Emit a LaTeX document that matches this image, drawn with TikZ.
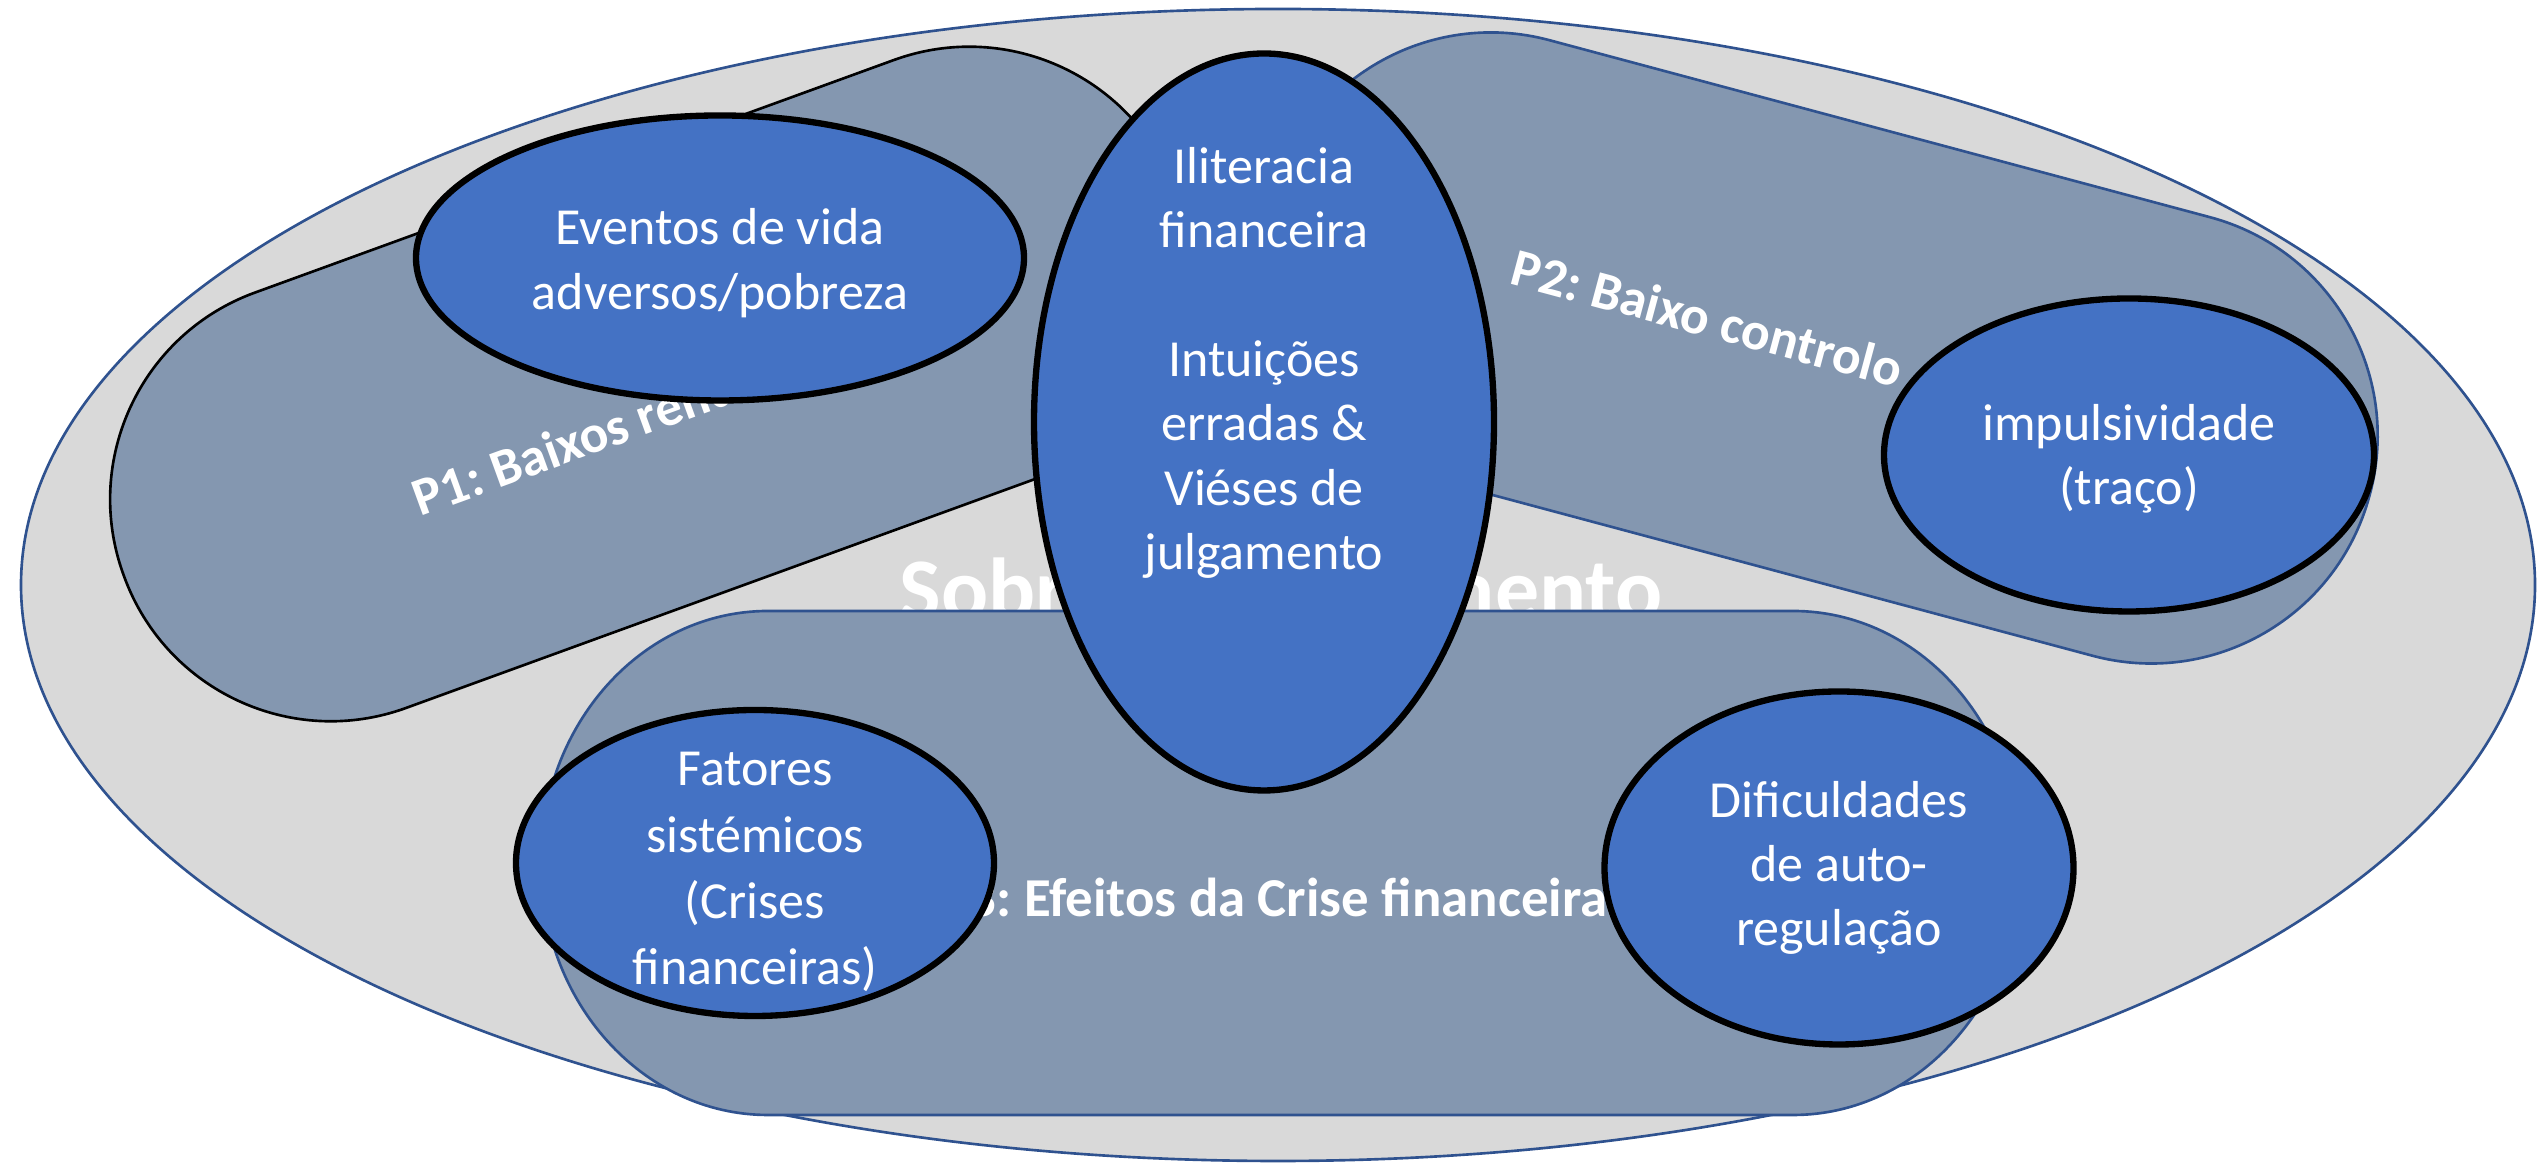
\documentclass[tikz,border=0pt]{standalone}
\usepackage{fontspec}
\setmainfont{Carlito}
\usetikzlibrary{shapes.geometric}
\frenchspacing

\definecolor{outerfill}{HTML}{D9D9D9}
\definecolor{outerline}{HTML}{2F528F}
\definecolor{pillfill}{HTML}{8497B0}
\definecolor{blobfill}{HTML}{4472C4}

\begin{document}
\begin{tikzpicture}[
    blob/.style={ellipse, draw=black, line width=1.8pt, fill=blobfill, inner sep=0pt},
    blobtext/.style={text=white, align=center, inner sep=0pt, font=\fontsize{14.8}{18.3}\selectfont},
    pill/.style={rectangle, fill=pillfill, draw=outerline, line width=0.75pt},
    pilltext/.style={text=white, anchor=base, inner sep=0pt, font=\fontsize{15.2}{18}\selectfont\bfseries}]
    \useasboundingbox (0,0) rectangle (25.37,11.67);

    % background: the whole problem
    \node[ellipse, fill=outerfill, draw=outerline, line width=0.75pt, inner sep=0pt,
          minimum width=25.14cm, minimum height=11.52cm] (outer) at (12.78,5.82) {};
    \node[anchor=base, text=white, font=\fontsize{25}{30}\selectfont\bfseries] (title) at (12.81,5.47) {Sobreendividamento};

    % the three pathways
    \node[pill, draw=black, rotate=20, minimum width=11.2cm, minimum height=4.42cm, rounded corners=2.2cm] (p1) at (6.50,7.83) {};
    \node[pill, rotate=-15, minimum width=11.36cm, minimum height=4.54cm, rounded corners=2.26cm] (p2) at (18.21,8.19) {};
    \draw[fill=pillfill, draw=outerline, line width=0.75pt] (7.68,5.56) -- (17.93,5.56)
        arc[start angle=90, end angle=-90, x radius=2.27, y radius=2.52] -- (7.68,0.52)
        arc[start angle=270, end angle=90, x radius=2.27, y radius=2.52] -- cycle;

    \node[pilltext, rotate=20] (p1text) at (6.65,7.39) {P1: Baixos rendimentos};
    \node[pilltext, rotate=-15] (p2text) at (17.03,8.31) {P2: Baixo controlo};
    \node[pilltext, font=\fontsize{15.6}{18}\selectfont\bfseries] (p3text) at (12.735,2.50) {P3: Efeitos da Crise financeira};

    % factors
    \node[blob, minimum width=6.08cm, minimum height=2.85cm] (ev) at (7.20,9.09) {};
    \node[blob, minimum width=4.60cm, minimum height=7.37cm] (ili) at (12.64,7.45) {};
    \node[blob, minimum width=4.90cm, minimum height=3.13cm] (imp) at (21.29,7.12) {};
    \node[blob, minimum width=4.78cm, minimum height=3.06cm] (fat) at (7.55,3.04) {};
    \node[blob, minimum width=4.69cm, minimum height=3.53cm] (dif) at (18.39,2.99) {};

    \node[blobtext] (evtext) at ([yshift=-0.05cm]ev.center) {Eventos de vida\\adversos/pobreza};
    \node[blobtext] (ilitext) at ([yshift=0.59cm]ili.center) {Iliteracia\\financeira\\[18.3pt]Intuições\\erradas \&\\Viéses de\\julgamento};
    \node[blobtext] (imptext) at ([yshift=-0.04cm]imp.center) {impulsividade\\(traço)};
    \node[blobtext, font=\fontsize{14.8}{18.8}\selectfont] (fattext) at ([yshift=-0.09cm]fat.center) {Fatores\\sistémicos\\(Crises\\financeiras)};
    \node[blobtext] (diftext) at (dif) {Dificuldades\\de auto-\\regulação};
\end{tikzpicture}
\end{document}
